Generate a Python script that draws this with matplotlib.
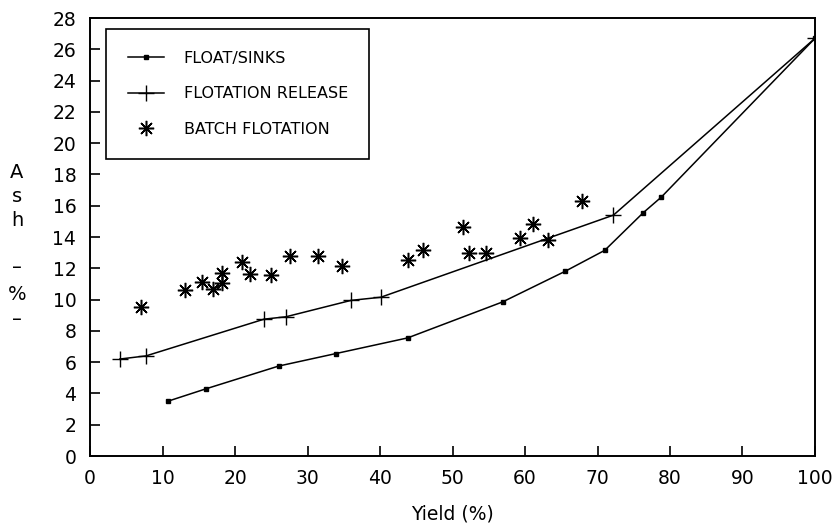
import numpy as np
import matplotlib
matplotlib.use("Agg")
import matplotlib.pyplot as plt
from matplotlib.lines import Line2D

# ── dati ─────────────────────────────────────────────────────
# float/sinks
fs_yield = [10.7, 16.0, 26.0, 33.9, 43.8, 56.9, 65.5, 71.0, 76.3, 78.8, 100.0]
fs_ash   = [3.5, 4.3, 5.75, 6.55, 7.55, 9.85, 11.8, 13.15, 15.55, 16.55, 26.7]

# flotation release
fr_yield = [4.1, 7.7, 24.0, 27.0, 36.0, 40.1, 72.2, 100.0]
fr_ash   = [6.2, 6.4, 8.75, 8.9, 9.95, 10.15, 15.4, 26.7]

# batch flotation
bf_yield = [7.0, 13.1, 15.4, 17.0, 18.2, 18.2, 21.0, 22.0, 24.9, 27.6, 31.4,
            34.8, 43.9, 45.9, 51.4, 52.2, 54.6, 59.3, 61.1, 63.1, 67.8]
bf_ash   = [9.55, 10.6, 11.15, 10.7, 11.05, 11.7, 12.4, 11.65, 11.55, 12.8, 12.8,
            12.15, 12.55, 13.15, 14.65, 13.0, 13.0, 13.95, 14.8, 13.8, 16.3]

x_ticks = list(range(0, 101, 10))
y_ticks = list(range(0, 29, 2))
# ────────────────────────────────────────────────────────────

plt.rcParams["font.family"] = "DejaVu Sans"

W, H = 835, 531
fig = plt.figure(figsize=(W / 100, H / 100), dpi=100)
ax = fig.add_axes([0.108, 0.1412, 0.868, 0.8249])

ax.plot(fs_yield, fs_ash, color="black", lw=1.1, marker="s", ms=3.2,
        label="FLOAT/SINKS")
ax.plot(fr_yield, fr_ash, color="black", lw=1.1, marker="+", ms=11, mew=1.0,
        label="FLOTATION RELEASE")
ax.plot(bf_yield, bf_ash, ls="none", color="black", marker=(8, 2, 0), ms=11,
        mew=1.1, label="BATCH FLOTATION")

ax.set_xlim(0, 100)
ax.set_ylim(0, 28)
ax.set_xticks(x_ticks)
ax.set_yticks(y_ticks)
ax.tick_params(direction="in", length=7, width=1.2, labelsize=13.5)
ax.tick_params(axis="x", pad=9)
ax.tick_params(axis="y", pad=10)
for s in ax.spines.values():
    s.set_linewidth(1.4)

ax.set_xlabel("Yield (%)", fontsize=13.5, labelpad=12)

# etichetta asse y, un carattere per riga
for ch, ypix in zip(["A", "s", "h", "–", "%", "–"], [172, 196, 220, 268, 294, 319]):
    fig.text(17 / W, 1 - ypix / H, ch, fontsize=14, ha="center", va="center")

handles = [
    Line2D([], [], color="black", lw=1.1, marker="s", ms=3.2),
    Line2D([], [], color="black", lw=1.1, marker="+", ms=11, mew=1.0),
    Line2D([], [], ls="none", color="black", marker=(8, 2, 0), ms=11, mew=1.1),
]
leg = ax.legend(handles, ["FLOAT/SINKS", "FLOTATION RELEASE", "BATCH FLOTATION"],
                loc="upper left", bbox_to_anchor=(0.022, 0.975), borderaxespad=0,
                fancybox=False, edgecolor="black", framealpha=1,
                fontsize=11.5, handlelength=2.3, labelspacing=1.3,
                borderpad=1.35, handletextpad=1.2)
leg.get_frame().set_linewidth(1.2)

fig.savefig("out.png", dpi=100)
